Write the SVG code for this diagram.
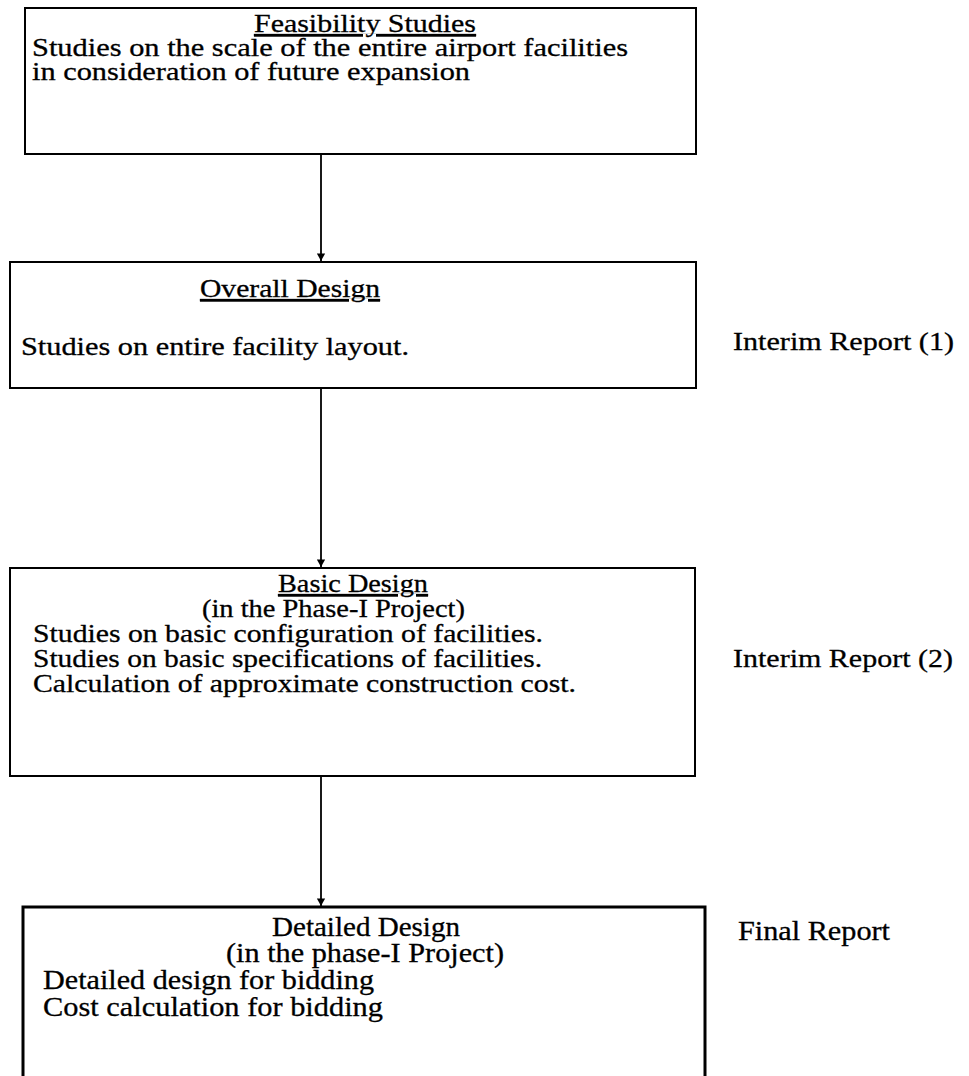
<svg xmlns="http://www.w3.org/2000/svg" width="969" height="1076" viewBox="0 0 969 1076">
  <defs>
    <marker id="arr" viewBox="0 0 10 12" refX="10" refY="6" markerWidth="11" markerHeight="9" markerUnits="userSpaceOnUse" orient="auto">
      <path d="M0,0.5 L10,6 L0,11.5 Z" fill="#000"/>
    </marker>
    <style>
      .box { fill: #fff; stroke: #000; stroke-width: 2; }
      .box4 { fill: #fff; stroke: #000; stroke-width: 3; }
      .t { font-family: "Liberation Serif", "Times New Roman", serif; font-size: 26px; fill: #000; stroke: #000; stroke-width: 0.3; }
      .t4 { font-family: "Liberation Serif", "Times New Roman", serif; font-size: 27px; fill: #000; stroke: #000; stroke-width: 0.3; }
      .u { text-decoration: underline; }
      .conn { stroke: #000; stroke-width: 1.8; fill: none; }
    </style>
  </defs>
  <rect width="969" height="1076" fill="#fff"/>

  <g id="connectors">
    <line class="conn" x1="321" y1="155" x2="321" y2="261" marker-end="url(#arr)"/>
    <line class="conn" x1="321" y1="389" x2="321" y2="567" marker-end="url(#arr)"/>
    <line class="conn" x1="321" y1="777" x2="321" y2="906" marker-end="url(#arr)"/>
  </g>

  <g id="feasibility">
    <rect class="box" x="25" y="8" width="671" height="146"/>
    <text class="t u" x="254" y="32" textLength="222" lengthAdjust="spacingAndGlyphs">Feasibility Studies</text>
    <text class="t" x="32" y="56" textLength="596" lengthAdjust="spacingAndGlyphs">Studies on the scale of the entire airport facilities</text>
    <text class="t" x="32" y="80" textLength="438" lengthAdjust="spacingAndGlyphs">in consideration of future expansion</text>
  </g>

  <g id="overall">
    <rect class="box" x="10" y="262" width="686" height="126"/>
    <text class="t u" x="200" y="297" textLength="180" lengthAdjust="spacingAndGlyphs">Overall Design</text>
    <text class="t" x="21" y="355" textLength="388" lengthAdjust="spacingAndGlyphs">Studies on entire facility layout.</text>
  </g>

  <g id="interim1">
    <text class="t" x="733" y="350" textLength="221" lengthAdjust="spacingAndGlyphs">Interim Report (1)</text>
  </g>

  <g id="basic">
    <rect class="box" x="10" y="568" width="685" height="208"/>
    <text class="t u" x="278" y="592" textLength="150" lengthAdjust="spacingAndGlyphs">Basic Design</text>
    <text class="t" x="202" y="617" textLength="263" lengthAdjust="spacingAndGlyphs">(in the Phase-I Project)</text>
    <text class="t" x="33" y="642" textLength="510" lengthAdjust="spacingAndGlyphs">Studies on basic configuration of facilities.</text>
    <text class="t" x="33" y="667" textLength="509" lengthAdjust="spacingAndGlyphs">Studies on basic specifications of facilities.</text>
    <text class="t" x="33" y="692" textLength="543" lengthAdjust="spacingAndGlyphs">Calculation of approximate construction cost.</text>
  </g>

  <g id="interim2">
    <text class="t" x="733" y="667" textLength="220" lengthAdjust="spacingAndGlyphs">Interim Report (2)</text>
  </g>

  <g id="detailed">
    <rect class="box4" x="23" y="907" width="682" height="200"/>
    <text class="t4" x="272" y="936" textLength="188" lengthAdjust="spacingAndGlyphs">Detailed Design</text>
    <text class="t4" x="226" y="962" textLength="278" lengthAdjust="spacingAndGlyphs">(in the phase-I Project)</text>
    <text class="t4" x="43" y="989" textLength="331" lengthAdjust="spacingAndGlyphs">Detailed design for bidding</text>
    <text class="t4" x="43" y="1016" textLength="340" lengthAdjust="spacingAndGlyphs">Cost calculation for bidding</text>
  </g>

  <g id="final">
    <text class="t4" x="738" y="940" textLength="152" lengthAdjust="spacingAndGlyphs">Final Report</text>
  </g>
</svg>
